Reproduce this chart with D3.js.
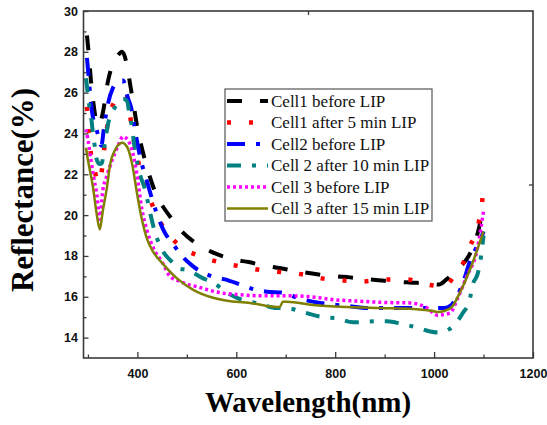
<!DOCTYPE html>
<html>
<head>
<meta charset="utf-8">
<script src="https://cdn.jsdelivr.net/npm/d3@7"></script>
<style>
  html, body { margin: 0; padding: 0; background: #fff; }
  svg { display: block; }
</style>
</head>
<body>
<svg id="chart" width="547" height="425"></svg>
<script>
// Reflectance spectra of three cells before and after LIP treatment

const seriesNames = [
  "Cell1 before LIP",
  "Cell1 after 5 min LIP",
  "Cell2 before LIP",
  "Cell 2 after 10 min LIP",
  "Cell 3 before LIP",
  "Cell 3 after 15 min LIP"
];

const xTickValues = [400, 600, 800, 1000, 1200];
const yTickValues = [14, 16, 18, 20, 22, 24, 26, 28, 30];

// Cell1 before LIP
const wlCell1Before = [298, 302, 306, 311, 316, 322, 330, 340, 350, 360, 369, 380, 386, 391, 399, 405, 420, 440, 455, 470, 490, 520, 550, 600, 625, 650, 690, 700, 750, 800, 830, 850, 900, 950, 990, 1010, 1025, 1050, 1070, 1083, 1092, 1100];
const rCell1Before = [28.8, 27.8, 26.6, 25.5, 24.7, 24.4, 25.0, 26.5, 27.4, 27.8, 28.0, 27.2, 26.3, 25.6, 24.4, 23.7, 22.3, 20.9, 20.3, 19.8, 19.2, 18.6, 18.2, 17.8, 17.7, 17.55, 17.4, 17.35, 17.15, 17.0, 16.95, 16.9, 16.78, 16.7, 16.65, 16.6, 16.85, 17.4, 18.0, 18.7, 19.5, 20.5];

// Cell1 after 5 min LIP
const wlCell1After = [298, 302, 306, 312, 318, 324, 330, 335, 341, 355, 370, 377, 385, 391, 400, 412, 425, 450, 483, 525, 565, 606, 652, 695, 733, 773, 816, 856, 897, 945, 986, 1022, 1040, 1056, 1072, 1090, 1097, 1100];
const rCell1After = [25.3, 24.0, 23.0, 22.3, 21.8, 21.6, 22.6, 23.7, 24.6, 25.6, 25.9, 25.9, 24.9, 23.9, 22.8, 21.6, 20.8, 19.5, 18.55, 18.0, 17.7, 17.5, 17.3, 17.2, 17.1, 16.9, 16.8, 16.75, 16.85, 16.85, 16.6, 16.5, 17.0, 17.5, 18.45, 19.6, 20.6, 21.6];

// Cell2 before LIP
const wlCell2Before = [298, 302, 306, 310, 316, 322, 327, 333, 340, 350, 360, 371, 380, 389, 395, 405, 420, 432, 452, 476, 490, 512, 551, 577, 608, 638, 662, 695, 723, 769, 824, 870, 917, 958, 992, 1020, 1035, 1046, 1060, 1072, 1085, 1097, 1100];
const rCell2Before = [27.7, 26.6, 25.5, 24.8, 24.3, 23.8, 23.4, 24.4, 25.4, 26.2, 26.5, 26.6, 25.8, 25.1, 24.2, 22.9, 21.6, 20.6, 19.3, 18.45, 18.0, 17.5, 17.0, 16.85, 16.6, 16.35, 16.25, 16.2, 15.95, 15.7, 15.55, 15.45, 15.45, 15.45, 15.45, 15.45, 15.6, 16.0, 16.8, 17.7, 18.4, 19.0, 19.2];

// Cell 2 after 10 min LIP
const wlCell2After = [296, 300, 303, 307, 310, 314, 318, 324, 328, 334, 341, 355, 371, 379, 383, 389, 395, 405, 415, 425, 435, 450, 470, 482, 502, 533, 553, 581, 611, 638, 654, 682, 700, 735, 775, 803, 836, 885, 905, 937, 965, 992, 1012, 1030, 1042, 1058, 1072, 1077, 1089, 1095, 1100];
const rCell2After = [26.7, 25.9, 25.3, 24.7, 24.0, 23.35, 22.7, 22.5, 22.55, 23.5, 24.5, 25.3, 25.7, 25.6, 25.1, 24.3, 23.2, 22.0, 21.3, 20.2, 19.2, 18.3, 17.7, 17.4, 17.3, 16.9, 16.7, 16.2, 15.85, 15.7, 15.6, 15.45, 15.45, 15.25, 15.0, 14.95, 14.75, 14.8, 14.8, 14.65, 14.5, 14.3, 14.25, 14.4, 14.65, 15.2, 15.85, 16.5, 17.2, 18.0, 19.0];

// Cell 3 before LIP
const wlCell3Before = [296, 300, 306, 312, 318, 324, 330, 338, 349, 361, 371, 380, 389, 399, 409, 420, 432, 450, 466, 486, 527, 567, 608, 648, 700, 750, 800, 850, 900, 950, 986, 1006, 1032, 1048, 1066, 1087, 1095, 1100];
const rCell3Before = [24.2, 23.7, 22.7, 21.8, 21.0, 19.8, 21.2, 21.9, 22.7, 23.4, 23.85, 23.7, 23.2, 22.0, 20.3, 19.2, 18.4, 17.7, 17.0, 16.75, 16.45, 16.2, 16.1, 16.05, 16.05, 16.0, 15.85, 15.78, 15.72, 15.7, 15.45, 15.1, 15.2, 15.95, 17.0, 18.3, 19.4, 20.2];

// Cell 3 after 15 min LIP
const wlCell3After = [296, 300, 310, 318, 324, 330, 338, 345, 355, 369, 379, 389, 399, 409, 420, 432, 452, 480, 512, 553, 581, 628, 662, 688, 694, 702, 755, 824, 890, 958, 998, 1008, 1020, 1036, 1052, 1072, 1100];
const rCell3After = [23.3, 22.7, 21.4, 20.0, 19.3, 20.2, 21.3, 22.5, 23.2, 23.55, 23.35, 22.55, 21.1, 19.8, 18.8, 18.2, 17.6, 16.9, 16.35, 15.95, 15.8, 15.7, 15.55, 15.5, 15.75, 15.75, 15.6, 15.5, 15.45, 15.4, 15.3, 15.25, 15.3, 15.5, 16.2, 17.3, 19.2];

const wavelengths = [wlCell1Before, wlCell1After, wlCell2Before, wlCell2After, wlCell3Before, wlCell3After];
const reflectances = [rCell1Before, rCell1After, rCell2Before, rCell2After, rCell3Before, rCell3After];

// Line styles per series
const styles = [
  { color: "#000000", width: 4,   dash: "15,18" },
  { color: "#ff0000", width: 4.5, dash: "4,18" },
  { color: "#0000ff", width: 4,   dash: "18,11,4,11" },
  { color: "#008080", width: 4,   dash: "14,11,4,11" },
  { color: "#ff00ff", width: 3.5, dash: "3,3" },
  { color: "#808000", width: 2.5, dash: null }
];

const svg = d3.select("#chart");
const plotLeft = 83.5, plotRight = 533, plotTop = 11, plotBottom = 358;

const x = d3.scaleLinear().domain([291, 1200]).range([plotLeft, plotRight]);
const y = d3.scaleLinear().domain([13, 30]).range([plotBottom, plotTop]);

// Clip region for the curves
svg.append("defs").append("clipPath").attr("id", "plotClip")
  .append("rect").attr("x", plotLeft).attr("y", plotTop)
  .attr("width", plotRight - plotLeft).attr("height", plotBottom - plotTop);

// Curves
const line = d3.line()
  .x(d => x(d[0]))
  .y(d => y(d[1]))
  .curve(d3.curveMonotoneX);

const curves = svg.append("g").attr("clip-path", "url(#plotClip)");
reflectances.forEach((vals, i) => {
  const pts = wavelengths[i].map((w, k) => [w, vals[k]]);
  const s = styles[i];
  curves.append("path")
    .datum(pts)
    .attr("d", line)
    .attr("fill", "none")
    .attr("stroke", s.color)
    .attr("stroke-width", s.width)
    .attr("stroke-dasharray", s.dash)
    .attr("stroke-linejoin", "round");
});

const frameColor = "#3a3a3a";
const tickFont = "bold 12.5px 'Liberation Sans', Arial, sans-serif";

// Bottom axis: labelled major ticks and minor ticks, pointing inward
const xAxis = d3.axisBottom(x).tickValues(xTickValues).tickSizeInner(-6).tickSizeOuter(0).tickPadding(11).tickFormat(d3.format("d"));
const gx = svg.append("g").attr("transform", `translate(0,${plotBottom})`).call(xAxis);
gx.select(".domain").remove();
const xMinor = d3.axisBottom(x).tickValues([300, 500, 700, 900, 1100]).tickSizeInner(-3.5).tickSizeOuter(0).tickFormat("");
const gxm = svg.append("g").attr("transform", `translate(0,${plotBottom})`).call(xMinor);
gxm.select(".domain").remove();

// Left axis
const yAxis = d3.axisLeft(y).tickValues(yTickValues).tickSizeInner(-5).tickSizeOuter(0).tickPadding(5.5).tickFormat(d3.format("d"));
const gy = svg.append("g").attr("transform", `translate(${plotLeft},0)`).call(yAxis);
gy.select(".domain").remove();
const yMinor = d3.axisLeft(y).tickValues([15, 17, 19, 21, 23, 25, 27, 29]).tickSizeInner(-3).tickSizeOuter(0).tickFormat("");
const gym = svg.append("g").attr("transform", `translate(${plotLeft},0)`).call(yMinor);
gym.select(".domain").remove();

// Top and right axes carry a single unlabelled tick each
const gt = svg.append("g").attr("transform", `translate(0,${plotTop})`)
  .call(d3.axisTop(x).tickValues([745]).tickSizeInner(-4).tickSizeOuter(0).tickFormat(""));
gt.select(".domain").remove();
const gr = svg.append("g").attr("transform", `translate(${plotRight},0)`)
  .call(d3.axisRight(y).tickValues([21.5]).tickSizeInner(-4).tickSizeOuter(0).tickFormat(""));
gr.select(".domain").remove();

svg.selectAll(".tick line").attr("stroke", frameColor).attr("stroke-width", 1.3);
svg.selectAll(".tick text").style("font", tickFont).attr("fill", "#111");

// Plot frame
svg.append("rect")
  .attr("x", plotLeft).attr("y", plotTop)
  .attr("width", plotRight - plotLeft).attr("height", plotBottom - plotTop)
  .attr("fill", "none").attr("stroke", frameColor).attr("stroke-width", 1.6);

// Axis titles
svg.append("text")
  .attr("x", 308).attr("y", 412)
  .attr("text-anchor", "middle")
  .style("font", "bold 29px 'Liberation Serif', 'Times New Roman', serif")
  .attr("fill", "#000")
  .text("Wavelength(nm)");

svg.append("text")
  .attr("transform", "translate(33,190) rotate(-90)")
  .attr("text-anchor", "middle")
  .attr("textLength", 204)
  .attr("lengthAdjust", "spacingAndGlyphs")
  .style("font", "bold 31px 'Liberation Serif', 'Times New Roman', serif")
  .attr("fill", "#000")
  .text("Reflectance(%)");

// Legend
const legend = svg.append("g");
legend.append("rect")
  .attr("x", 225).attr("y", 89).attr("width", 207).attr("height", 132)
  .attr("fill", "#fff").attr("stroke", "#555").attr("stroke-width", 1.2);

const rowY = d3.scaleLinear().domain([0, 5]).range([101, 208.5]);
seriesNames.forEach((name, i) => {
  const s = styles[i];
  const yy = rowY(i);
  legend.append("line")
    .attr("x1", 227).attr("x2", 268).attr("y1", yy).attr("y2", yy)
    .attr("stroke", s.color).attr("stroke-width", s.width)
    .attr("stroke-dasharray", s.dash);
  legend.append("text")
    .attr("x", 271).attr("y", yy).attr("dy", "0.35em")
    .style("font", "17px 'Liberation Serif', 'Times New Roman', serif")
    .attr("fill", "#111")
    .text(name);
});
</script>
</body>
</html>
